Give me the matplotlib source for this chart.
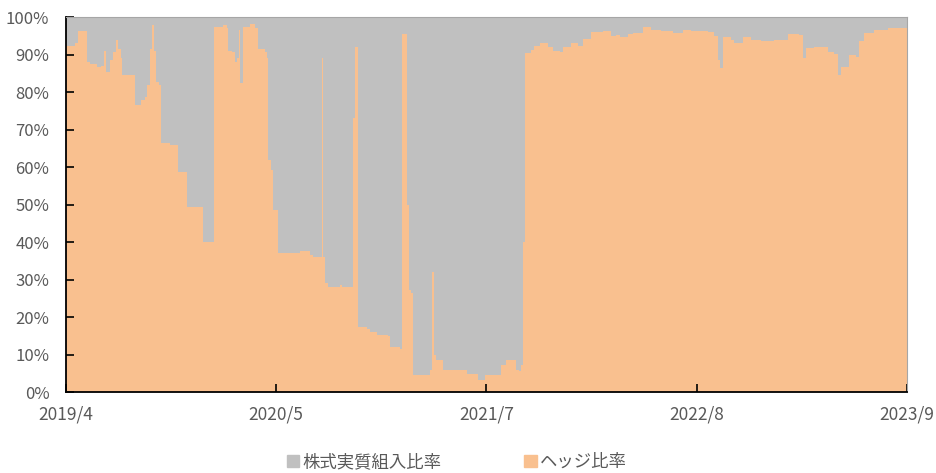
import pandas as pd
import matplotlib
matplotlib.use('Agg')
from matplotlib import pyplot as plt
from matplotlib.patches import Patch

plt.rcParams['font.family'] = ['Noto Sans CJK JP', 'DejaVu Sans']

# ヘッジ比率 (%), 読み取り値
hedge_dates = ['2019-04-16', '2019-05-03', '2019-05-09', '2019-05-26', '2019-06-01', '2019-06-15',
               '2019-06-22', '2019-06-28', '2019-07-02', '2019-07-10', '2019-07-16', '2019-07-21',
               '2019-07-25', '2019-07-31', '2019-08-02', '2019-08-27', '2019-09-08', '2019-09-15',
               '2019-09-19', '2019-09-25', '2019-09-29', '2019-10-03', '2019-10-07', '2019-10-12',
               '2019-10-16', '2019-11-03', '2019-11-18', '2019-12-05', '2020-01-05', '2020-01-26',
               '2020-02-13', '2020-02-21', '2020-02-22', '2020-03-01', '2020-03-07', '2020-03-11',
               '2020-03-15', '2020-03-17', '2020-03-22', '2020-04-05', '2020-04-14', '2020-04-20',
               '2020-05-04', '2020-05-08', '2020-05-10', '2020-05-15', '2020-05-19', '2020-05-29',
               '2020-07-10', '2020-07-30', '2020-08-04', '2020-08-22', '2020-08-24', '2020-08-26',
               '2020-09-02', '2020-09-24', '2020-09-29', '2020-10-20', '2020-10-24', '2020-10-30',
               '2020-11-16', '2020-11-22', '2020-12-06', '2020-12-27', '2020-12-31', '2021-01-19',
               '2021-01-23', '2021-01-31', '2021-02-04', '2021-02-09', '2021-02-13', '2021-03-18',
               '2021-03-22', '2021-03-24', '2021-03-28', '2021-04-12', '2021-05-15', '2021-05-28',
               '2021-06-17', '2021-07-02', '2021-07-25', '2021-07-31', '2021-08-10', '2021-08-29',
               '2021-09-04', '2021-09-08', '2021-09-13', '2021-09-17', '2021-09-27', '2021-10-03',
               '2021-10-16', '2021-10-30', '2021-11-10', '2021-11-22', '2021-11-28', '2021-12-13',
               '2021-12-27', '2022-01-05', '2022-01-21', '2022-02-13', '2022-02-28', '2022-03-10',
               '2022-03-19', '2022-04-02', '2022-04-13', '2022-05-01', '2022-05-16', '2022-06-05',
               '2022-06-28', '2022-07-17', '2022-08-01', '2022-08-21', '2022-09-03', '2022-09-15',
               '2022-09-23', '2022-09-26', '2022-10-02', '2022-10-18', '2022-10-23', '2022-11-10',
               '2022-11-25', '2022-12-14', '2023-01-09', '2023-02-05', '2023-02-26', '2023-03-06',
               '2023-03-11', '2023-03-27', '2023-04-23', '2023-05-04', '2023-05-12', '2023-05-18',
               '2023-06-02', '2023-06-16', '2023-06-21', '2023-07-01', '2023-07-20', '2023-08-16',
               '2023-09-10', '2023-09-22']
hedge = [92.3, 93.0, 96.3, 88.0, 87.5, 86.7,
         87.0, 91.0, 85.4, 88.5, 90.7, 93.9,
         91.4, 89.0, 84.5, 76.5, 78.0, 78.6,
         82.0, 91.6, 97.9, 91.0, 82.7, 82.0,
         66.3, 66.0, 58.8, 49.4, 39.9, 97.4,
         98.0, 97.0, 91.0, 90.6, 88.0, 89.0,
         96.5, 82.3, 97.4, 98.1, 97.0, 91.6,
         90.7, 89.0, 61.9, 59.2, 48.5, 37.0,
         37.5, 36.5, 36.0, 89.0, 36.0, 29.0,
         28.0, 28.5, 28.0, 73.0, 92.0, 17.4,
         16.7, 16.0, 15.2, 15.0, 12.0, 11.4,
         95.6, 50.0, 27.2, 26.4, 4.5, 6.0,
         32.0, 9.9, 8.5, 5.8, 5.8, 4.9,
         3.2, 4.5, 4.5, 7.2, 8.5, 6.0,
         5.5, 7.3, 40.0, 90.3, 91.1, 92.4,
         93.0, 92.0, 91.0, 90.7, 92.0, 93.0,
         92.3, 94.2, 96.0, 96.4, 94.9, 95.2,
         94.6, 95.5, 95.8, 97.4, 96.5, 96.2,
         95.8, 96.5, 96.2, 96.4, 96.0, 94.9,
         88.5, 86.3, 94.6, 94.0, 93.2, 94.6,
         94.0, 93.5, 94.0, 95.5, 95.2, 89.2,
         91.7, 92.0, 90.7, 90.2, 84.5, 86.7,
         89.8, 89.4, 93.5, 95.8, 96.5, 97.0,
         97.0, 97.0]

# 株式実質組入比率 (%)
stock_dates = ['2019-04-16', '2023-09-22']
stock = [100.0, 100.0]

tick_dates = ['2019-04-16', '2020-05-25', '2021-07-04', '2022-08-13', '2023-09-22']
tick_labels = ['2019/4', '2020/5', '2021/7', '2022/8', '2023/9']

labels = ['株式実質組入比率', 'ヘッジ比率']
colors = ['#c0c0c0', '#f9c08f']

hd = pd.to_datetime(hedge_dates)
sd = pd.to_datetime(stock_dates)
td = pd.to_datetime(tick_dates)

fig = plt.figure(figsize=(9.36, 4.73), dpi=100)
ax = fig.add_axes([0.0705, 0.1712, 0.8985, 0.7928])

ax.fill_between(sd, 0, stock, step='post', color=colors[0], linewidth=0)
ax.fill_between(hd, 0, hedge, step='post', color=colors[1], linewidth=0)

ax.set_xlim(td[0], td[-1])
ax.set_ylim(0, 100)
ax.set_xticks(td)
ax.set_xticklabels(tick_labels)
ax.set_yticks(range(0, 101, 10))
ax.set_yticklabels([f'{v}%' for v in range(0, 101, 10)])

ax.tick_params(axis='x', direction='in', length=6, width=1.2, pad=10,
               labelsize=12.5, labelcolor='#595959')
ax.tick_params(axis='y', direction='in', length=6, width=1.2, pad=12,
               labelsize=12, labelcolor='#595959')
for s in ['left', 'bottom']:
    ax.spines[s].set_color('black')
    ax.spines[s].set_linewidth(1.3)
for s in ['top', 'right']:
    ax.spines[s].set_color('#a6a6a6')
    ax.spines[s].set_linewidth(0.8)

handles = [Patch(color=c) for c in colors]
fig.legend(handles, labels, loc='center', bbox_to_anchor=(0.488, 0.023), ncol=2,
           frameon=False, fontsize=12.5, labelcolor='#595959', handlelength=0.7,
           handleheight=0.7, handletextpad=0.2, columnspacing=4.8)

plt.savefig('out.png', dpi=100)
